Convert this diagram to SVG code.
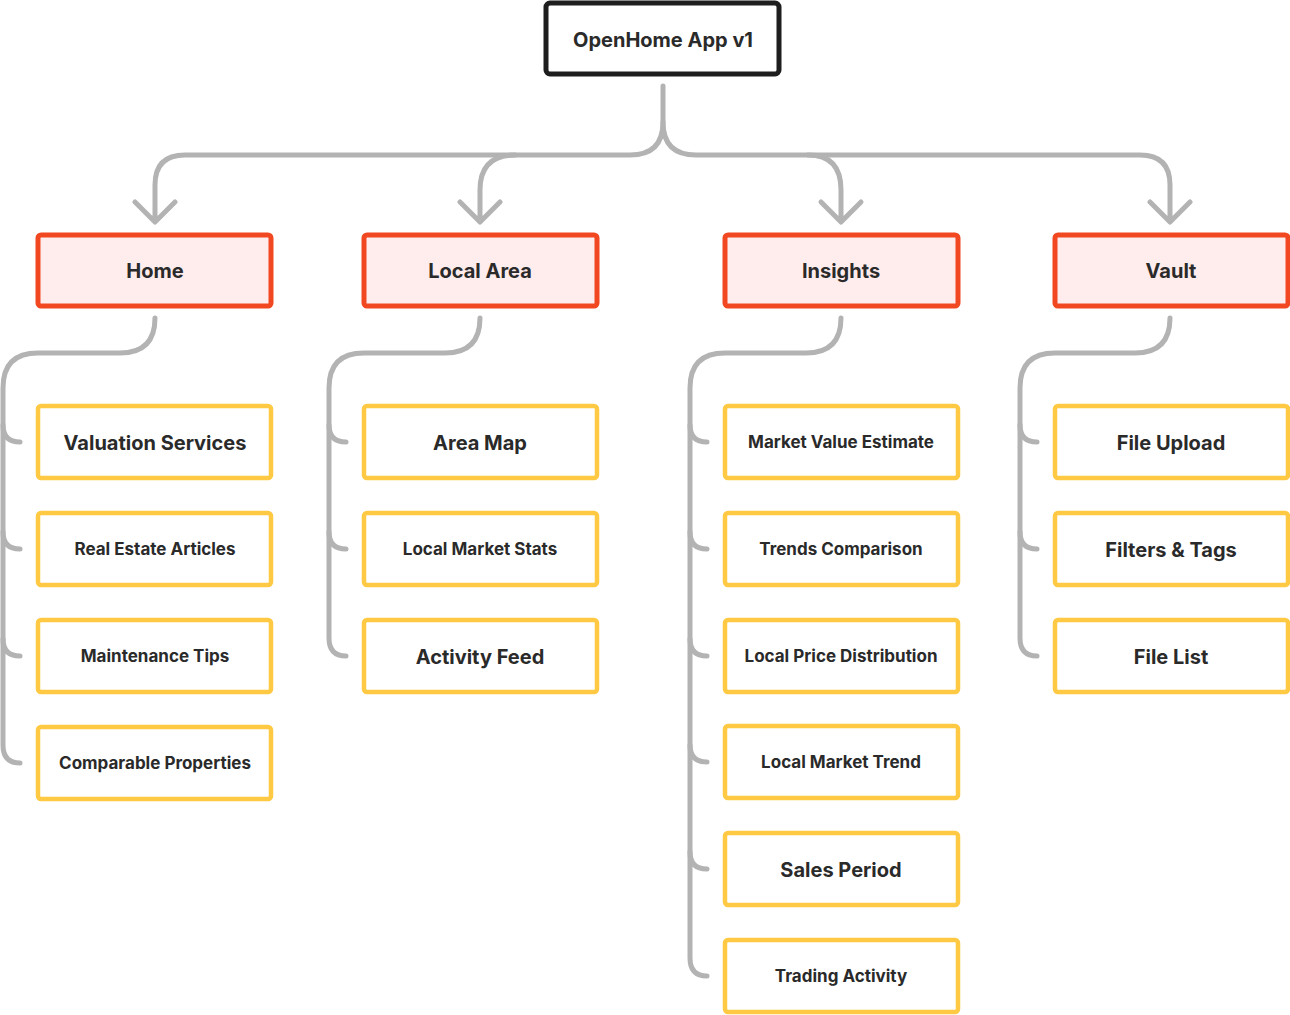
<svg xmlns="http://www.w3.org/2000/svg" width="1290" height="1015" viewBox="0 0 1290 1015">
<style>
text{font-family:Inter,"Liberation Sans",sans-serif;font-weight:700;fill:#2a2a2a;text-anchor:middle;dominant-baseline:central}
.root{fill:#fff;stroke:#1e1e1e;stroke-width:5}
.cat{fill:#FFECEC;stroke:#F24822;stroke-width:5}
.leaf{fill:#fff;stroke:#FFC943;stroke-width:4.5}
.c{fill:none;stroke:#B3B3B3;stroke-width:5;stroke-linecap:round;stroke-linejoin:round}
</style>
<rect width="1290" height="1015" fill="#fff"/>
<g id="connectors">
<path class="c" d="M663 86V122Q663 155 630 155H185Q155 155 155 185V220M135 202L155 222L175 202"/>
<path class="c" d="M663 122Q663 155 696 155H1140Q1170 155 1170 185V220M1150 202L1170 222L1190 202"/>
<path class="c" d="M515 155Q480 155 480 190V220M460 202L480 222L500 202"/>
<path class="c" d="M808 155Q841 155 841 190V220M821 202L841 222L861 202"/>
<g id="branches">
<path class="c" d="M155 318Q155 353 120 353H38Q3 353 3 388V745Q3 763 20 763"/>
<path class="c" d="M3 425Q3 442 20 442M3 532Q3 549 20 549M3 639Q3 656 20 656"/>
<path class="c" d="M480 318Q480 353 445 353H364Q329 353 329 388V638Q329 656 346 656"/>
<path class="c" d="M329 425Q329 442 346 442M329 532Q329 549 346 549"/>
<path class="c" d="M841 318Q841 353 806 353H725Q690 353 690 388V958Q690 976 707 976"/>
<path class="c" d="M690 425Q690 442 707 442M690 532Q690 549 707 549M690 639Q690 656 707 656M690 745Q690 762 707 762M690 852Q690 869 707 869"/>
<path class="c" d="M1170 318Q1170 353 1135 353H1055Q1020 353 1020 388V638Q1020 656 1037 656"/>
<path class="c" d="M1020 425Q1020 442 1037 442M1020 532Q1020 549 1037 549"/>
</g>
</g>
<g id="root"><rect class="root" x="546" y="3" width="233" height="71" rx="4"/><text x="663" y="40" font-size="20">OpenHome App v1</text></g>
<g id="home"><rect class="cat" x="38" y="235" width="233" height="71" rx="3"/><text x="155" y="271" font-size="20">Home</text></g>
<g id="localarea"><rect class="cat" x="364" y="235" width="233" height="71" rx="3"/><text x="480" y="271" font-size="20">Local Area</text></g>
<g id="insights"><rect class="cat" x="725" y="235" width="233" height="71" rx="3"/><text x="841" y="271" font-size="20">Insights</text></g>
<g id="vault"><rect class="cat" x="1055" y="235" width="233" height="71" rx="3"/><text x="1171" y="271" font-size="20">Vault</text></g>
<g id="n1"><rect class="leaf" x="38" y="406" width="233" height="72" rx="3"/><text x="155" y="443" font-size="20">Valuation Services</text></g>
<g id="n2"><rect class="leaf" x="38" y="513" width="233" height="72" rx="3"/><text x="155" y="549" font-size="17">Real Estate Articles</text></g>
<g id="n3"><rect class="leaf" x="38" y="620" width="233" height="72" rx="3"/><text x="155" y="656" font-size="17">Maintenance Tips</text></g>
<g id="n4"><rect class="leaf" x="38" y="727" width="233" height="72" rx="3"/><text x="155" y="763" font-size="17">Comparable Properties</text></g>
<g id="n5"><rect class="leaf" x="364" y="406" width="233" height="72" rx="3"/><text x="480" y="443" font-size="20">Area Map</text></g>
<g id="n6"><rect class="leaf" x="364" y="513" width="233" height="72" rx="3"/><text x="480" y="549" font-size="17">Local Market Stats</text></g>
<g id="n7"><rect class="leaf" x="364" y="620" width="233" height="72" rx="3"/><text x="480" y="657" font-size="20">Activity Feed</text></g>
<g id="n8"><rect class="leaf" x="725" y="406" width="233" height="72" rx="3"/><text x="841" y="442" font-size="17">Market Value Estimate</text></g>
<g id="n9"><rect class="leaf" x="725" y="513" width="233" height="72" rx="3"/><text x="841" y="549" font-size="17">Trends Comparison</text></g>
<g id="n10"><rect class="leaf" x="725" y="620" width="233" height="72" rx="3"/><text x="841" y="656" font-size="17">Local Price Distribution</text></g>
<g id="n11"><rect class="leaf" x="725" y="726" width="233" height="72" rx="3"/><text x="841" y="762" font-size="17">Local Market Trend</text></g>
<g id="n12"><rect class="leaf" x="725" y="833" width="233" height="72" rx="3"/><text x="841" y="870" font-size="20">Sales Period</text></g>
<g id="n13"><rect class="leaf" x="725" y="940" width="233" height="72" rx="3"/><text x="841" y="976" font-size="17">Trading Activity</text></g>
<g id="n14"><rect class="leaf" x="1055" y="406" width="233" height="72" rx="3"/><text x="1171" y="443" font-size="20">File Upload</text></g>
<g id="n15"><rect class="leaf" x="1055" y="513" width="233" height="72" rx="3"/><text x="1171" y="550" font-size="20">Filters &amp; Tags</text></g>
<g id="n16"><rect class="leaf" x="1055" y="620" width="233" height="72" rx="3"/><text x="1171" y="657" font-size="20">File List</text></g>
</svg>
